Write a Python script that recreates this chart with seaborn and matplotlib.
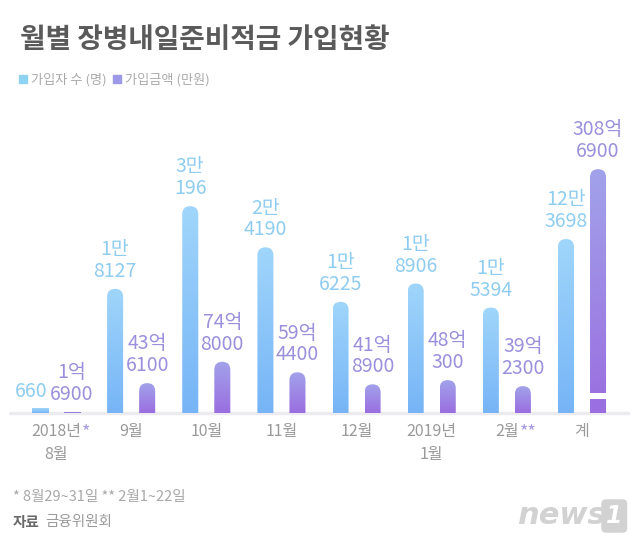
import numpy as np
import pandas as pd
import matplotlib
matplotlib.use("Agg")
import matplotlib.pyplot as plt
import seaborn as sns
from matplotlib.colors import to_rgb
from matplotlib.patches import FancyBboxPatch, Rectangle, Patch

months = ["2018년\n8월", "9월", "10월", "11월", "12월", "2019년\n1월", "2월", "계"]
members = [660, 18127, 30196, 24190, 16225, 18906, 15394, 123698]          # 가입자 수 (명)
amounts = [16900, 436100, 748000, 594400, 418900, 480300, 392300, 3086900]  # 가입금액 (만원)
member_labels = ["660", "1만\n8127", "3만\n196", "2만\n4190", "1만\n6225",
                 "1만\n8906", "1만\n5394", "12만\n3698"]
amount_labels = ["1억\n6900", "43억\n6100", "74억\n8000", "59억\n4400", "41억\n8900",
                 "48억\n300", "39억\n2300", "308억\n6900"]
series = ["가입자 수 (명)", "가입금액 (만원)"]
total_shown = [25400, 35600]
amount_scale = 100   # 금액 bars share the axis as 만원/100
footnotes = {"2018년\n8월": "*", "2월": "**"}

BLUE = ("#a0d6fb", "#76b4f6")
PURPLE = ("#a2a2ea", "#9a6ee0")
BLUE_TXT = "#8ecdf0"
PURPLE_TXT = "#9a90dc"

sns.set_theme(style="white")
plt.rcParams["font.family"] = ["Noto Sans CJK KR", "DejaVu Sans"]

shown_members = members[:-1] + [total_shown[0]]
shown_amounts = [a / amount_scale for a in amounts[:-1]] + [total_shown[1]]
df = pd.DataFrame({
    "month": months * 2,
    "series": [series[0]] * len(months) + [series[1]] * len(months),
    "value": shown_members + shown_amounts,
})

fig = plt.figure(figsize=(6.4, 5.42), dpi=100)
ax = fig.add_axes([10 / 640, 129 / 542, 618 / 640, 313 / 542])
sns.barplot(data=df, x="month", y="value", hue="series", palette=[BLUE[1], PURPLE[1]],
            width=0.853, gap=0.5, legend=False, errorbar=None, saturation=1, ax=ax)
ax.set_xlim(-0.612, 7.612)
ax.set_ylim(0, 45700)
ax.set_autoscale_on(False)

# pixel aspect so the bar tops come out as half circles
o = ax.transData.transform((0, 0))
asp = (ax.transData.transform((1, 0))[0] - o[0]) / (ax.transData.transform((0, 1))[1] - o[1])


def rounded_bar(p, colors):
    x0, w, h = p.get_x(), p.get_width(), p.get_height()
    p.set_visible(False)
    ry = w / 2 * asp
    if h > ry * 1.2:
        shape = FancyBboxPatch((x0, -2 * ry), w, h + 2 * ry,
                               boxstyle=f"round,pad=0,rounding_size={w / 2}",
                               mutation_aspect=asp, fc="none", ec="none")
    else:
        shape = Rectangle((x0, 0), w, h, fc="none", ec="none")
    ax.add_patch(shape)
    grad = np.linspace(to_rgb(colors[1]), to_rgb(colors[0]), 128)[:, None, :]
    im = ax.imshow(grad, extent=(x0, x0 + w, 0, h), origin="lower",
                   aspect="auto", interpolation="bilinear", zorder=2)
    im.set_clip_path(shape)
    return x0 + w / 2, h, w


bars = sorted([p for p in ax.patches if isinstance(p, Rectangle) and p.get_height() > 0],
              key=lambda p: p.get_x())
anns = []
for i, p in enumerate(bars):
    k, kind = divmod(i, 2)
    colors = BLUE if kind == 0 else PURPLE
    cx, h, w = rounded_bar(p, colors)
    lab = member_labels[k] if kind == 0 else amount_labels[k]
    anns.append(ax.annotate(lab, (cx, h), xytext=(0, 5), textcoords="offset points",
                            ha="center", va="bottom", fontsize=14, linespacing=1.05,
                            color=BLUE_TXT if kind == 0 else PURPLE_TXT,
                            annotation_clip=False))
    if k == len(months) - 1 and kind == 1:
        # break mark on the shortened total bar
        ax.add_patch(Rectangle((cx - w, h * 0.058), 2 * w, h * 0.026,
                               fc="white", ec="none", zorder=3))

ax.axhline(0, color="#ececf0", lw=2.5, zorder=1, clip_on=False)
ax.set_xticks(range(len(months)))
ax.set_xticklabels(months, color="#9a9a9a", fontsize=11.5, linespacing=1.45)
ax.tick_params(axis="x", length=0, pad=7)
ax.set_yticks([])
ax.set_xlabel("")
ax.set_ylabel("")
for s in ax.spines.values():
    s.set_visible(False)

fig.text(20 / 640, 1 - 40 / 542, "월별 장병내일준비적금 가입현황", fontsize=20,
         weight="bold", color="#5a5a5a", va="center")
ax.legend(handles=[Patch(color="#8fd3f3"), Patch(color="#9e98e8")], labels=series,
          loc="center left", bbox_to_anchor=(19 / 640, 1 - 80 / 542),
          bbox_transform=fig.transFigure, ncol=2, frameon=False,
          handlelength=0.6, handleheight=0.6, handletextpad=0.3, columnspacing=0.5,
          fontsize=9.5, labelcolor="#aaaaaa", borderpad=0, borderaxespad=0)

fig.canvas.draw()
W, H = fig.canvas.get_width_height()

# nudge a label left when it runs into its neighbour
for a, b in zip(anns[:-1], anns[1:]):
    ba, bb = a.get_window_extent(), b.get_window_extent()
    if ba.x1 > bb.x0 - 3 and ba.y1 > bb.y0 and bb.y1 > ba.y0:
        shift = (ba.x1 - bb.x0 + 3) * 72 / fig.dpi
        a.xyann = (a.xyann[0] - shift, a.xyann[1])

for t in ax.get_xticklabels():
    star = footnotes.get(t.get_text())
    if star:
        bb = t.get_window_extent()
        fig.text(bb.x1 / W + 0.002, bb.y1 / H, star, ha="left", va="top",
                 fontsize=13, color="#a59be6")

fig.text(13 / 640, 1 - 497 / 542, "* 8월29~31일 ** 2월1~22일", fontsize=10.5,
         color="#a8a8a8", va="center")
fig.text(13 / 640, 1 - 522 / 542, "자료", fontsize=10.5, weight="bold",
         color="#6a6a6a", va="center")
fig.text(45 / 640, 1 - 522 / 542, "금융위원회", fontsize=10.5, color="#9a9a9a", va="center")
fig.text(517 / 640, 1 - 516 / 542, "news", fontsize=22, style="italic", weight="bold",
         color="#d2d2d2", family="DejaVu Sans", va="center")
fig.text(606 / 640, 1 - 516 / 542, "1", fontsize=17, style="italic", weight="bold",
         color="white", family="DejaVu Sans", va="center",
         bbox=dict(boxstyle="round,pad=0.2", fc="#d2d2d2", ec="none"))

fig.savefig("out.png", dpi=100, facecolor="white")
